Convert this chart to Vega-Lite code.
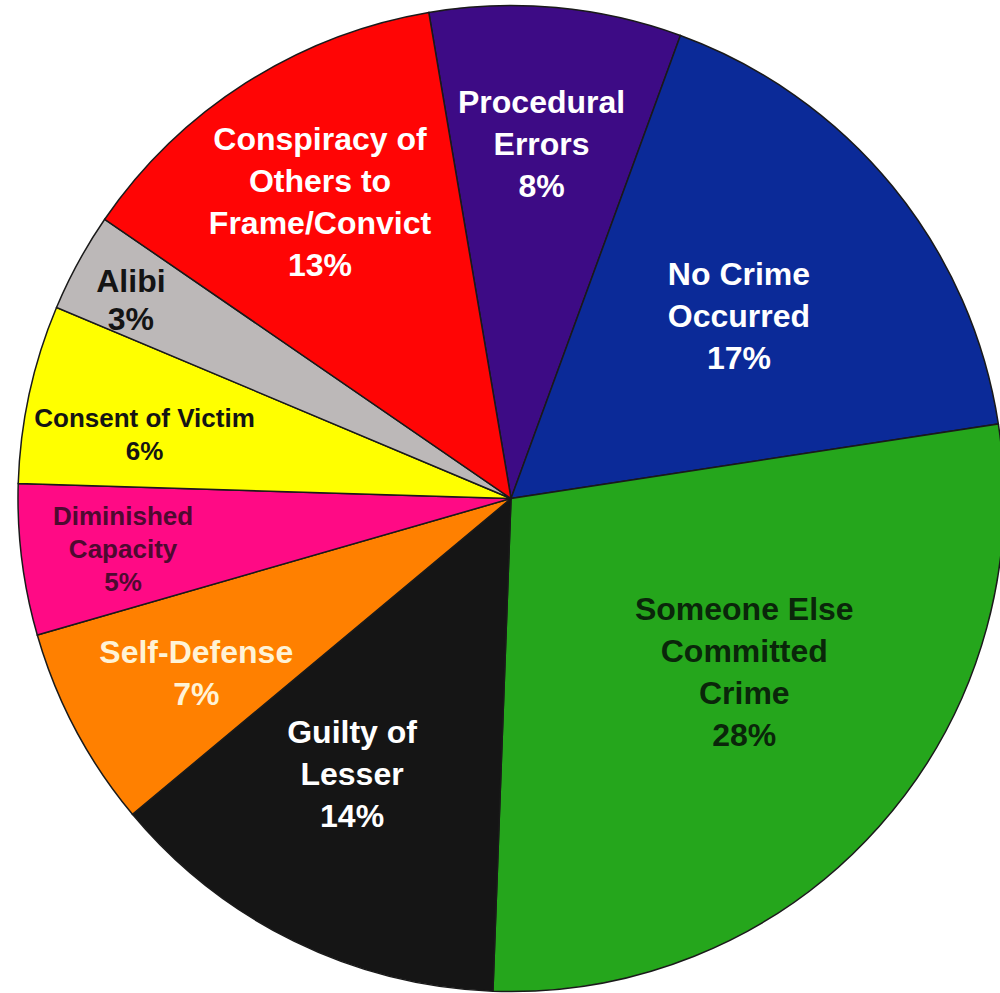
{
  "$schema": "https://vega.github.io/schema/vega-lite/v6.json",
  "width": 1000,
  "height": 993,
  "autosize": {"type": "fit", "contains": "padding"},
  "padding": {"left": 22, "right": 0, "top": 8, "bottom": 4},
  "background": "white",
  "view": {"stroke": null},
  "data": {
    "values": [
      {"k": 1, "cat": "Procedural Errors", "label": "Procedural\nErrors\n8%", "v": 8.25},
      {"k": 2, "cat": "No Crime Occurred", "label": "No Crime\nOccurred\n17%", "v": 17.0},
      {"k": 3, "cat": "Someone Else Committed Crime", "label": "Someone Else\nCommitted\nCrime\n28%", "v": 28.0},
      {"k": 4, "cat": "Guilty of Lesser", "label": "Guilty of\nLesser\n14%", "v": 13.35},
      {"k": 5, "cat": "Self-Defense", "label": "Self-Defense\n7%", "v": 6.6},
      {"k": 6, "cat": "Diminished Capacity", "label": "Diminished\nCapacity\n5%", "v": 4.95},
      {"k": 7, "cat": "Consent of Victim", "label": "Consent of Victim\n6%", "v": 5.85},
      {"k": 8, "cat": "Alibi", "label": "Alibi\n3%", "v": 3.25},
      {"k": 9, "cat": "Conspiracy of Others to Frame/Convict", "label": "Conspiracy of\nOthers to\nFrame/Convict\n13%", "v": 12.75}
    ]
  },
  "layer": [
    {
      "mark": {"type": "arc", "outerRadius": 493, "stroke": "#1a1a1a", "strokeWidth": 1.5},
      "encoding": {
        "theta": {"field": "v", "type": "quantitative", "stack": true, "scale": {"range": [-0.16755, 6.11563]}},
        "order": {"field": "k", "type": "quantitative"},
        "color": {
          "field": "cat",
          "type": "nominal",
          "legend": null,
          "scale": {
            "domain": ["Procedural Errors", "No Crime Occurred", "Someone Else Committed Crime", "Guilty of Lesser", "Self-Defense", "Diminished Capacity", "Consent of Victim", "Alibi", "Conspiracy of Others to Frame/Convict"],
            "range": ["#3d0b85", "#0b2a98", "#25a61c", "#151515", "#ff8000", "#ff0a85", "#ffff00", "#bcb8b8", "#ff0505"]
          }
        }
      }
    },
    {
      "mark": {
        "type": "text",
        "font": "Liberation Sans",
        "fontWeight": "bold",
        "align": "center",
        "baseline": "middle",
        "lineBreak": "\n",
        "lineHeight": {"expr": "(datum.cat === 'Consent of Victim' || datum.cat === 'Diminished Capacity') ? 33 : (datum.cat === 'Alibi' ? 38 : 42)"},
        "radius": {"expr": "datum.cat === 'Procedural Errors' ? 356 : datum.cat === 'No Crime Occurred' ? 292 : datum.cat === 'Someone Else Committed Crime' ? 291 : datum.cat === 'Guilty of Lesser' ? 320 : datum.cat === 'Self-Defense' ? 362 : datum.cat === 'Diminished Capacity' ? 391 : datum.cat === 'Consent of Victim' ? 372 : datum.cat === 'Alibi' ? 432 : 355"},
        "dx": {"expr": "datum.cat === 'Someone Else Committed Crime' ? 16 : datum.cat === 'Guilty of Lesser' ? -18 : datum.cat === 'Alibi' ? -1 : datum.cat === 'Consent of Victim' ? -3 : datum.cat === 'Self-Defense' ? 5 : datum.cat === 'Procedural Errors' ? -2 : datum.cat === 'No Crime Occurred' ? 2 : 0"},
        "dy": {"expr": "datum.cat === 'Procedural Errors' ? -41 : datum.cat === 'No Crime Occurred' ? -39 : datum.cat === 'Someone Else Committed Crime' ? -82 : datum.cat === 'Guilty of Lesser' ? -53 : datum.cat === 'Self-Defense' ? -15 : datum.cat === 'Diminished Capacity' ? -30 : datum.cat === 'Consent of Victim' ? 0 : datum.cat === 'Alibi' ? -9 : -59"}
      },
      "encoding": {
        "theta": {"field": "v", "type": "quantitative", "stack": true},
        "order": {"field": "k", "type": "quantitative"},
        "text": {"field": "label"},
        "size": {
          "condition": {"test": "datum.cat === 'Consent of Victim' || datum.cat === 'Diminished Capacity'", "value": 26},
          "value": 32
        },
        "color": {
          "condition": [
            {"test": "datum.cat === 'Someone Else Committed Crime'", "value": "#0a260a"},
            {"test": "datum.cat === 'Diminished Capacity'", "value": "#4d0a30"},
            {"test": "datum.cat === 'Consent of Victim' || datum.cat === 'Alibi'", "value": "#141414"},
            {"test": "datum.cat === 'Self-Defense'", "value": "#fff3d6"}
          ],
          "value": "#ffffff"
        }
      }
    }
  ]
}
